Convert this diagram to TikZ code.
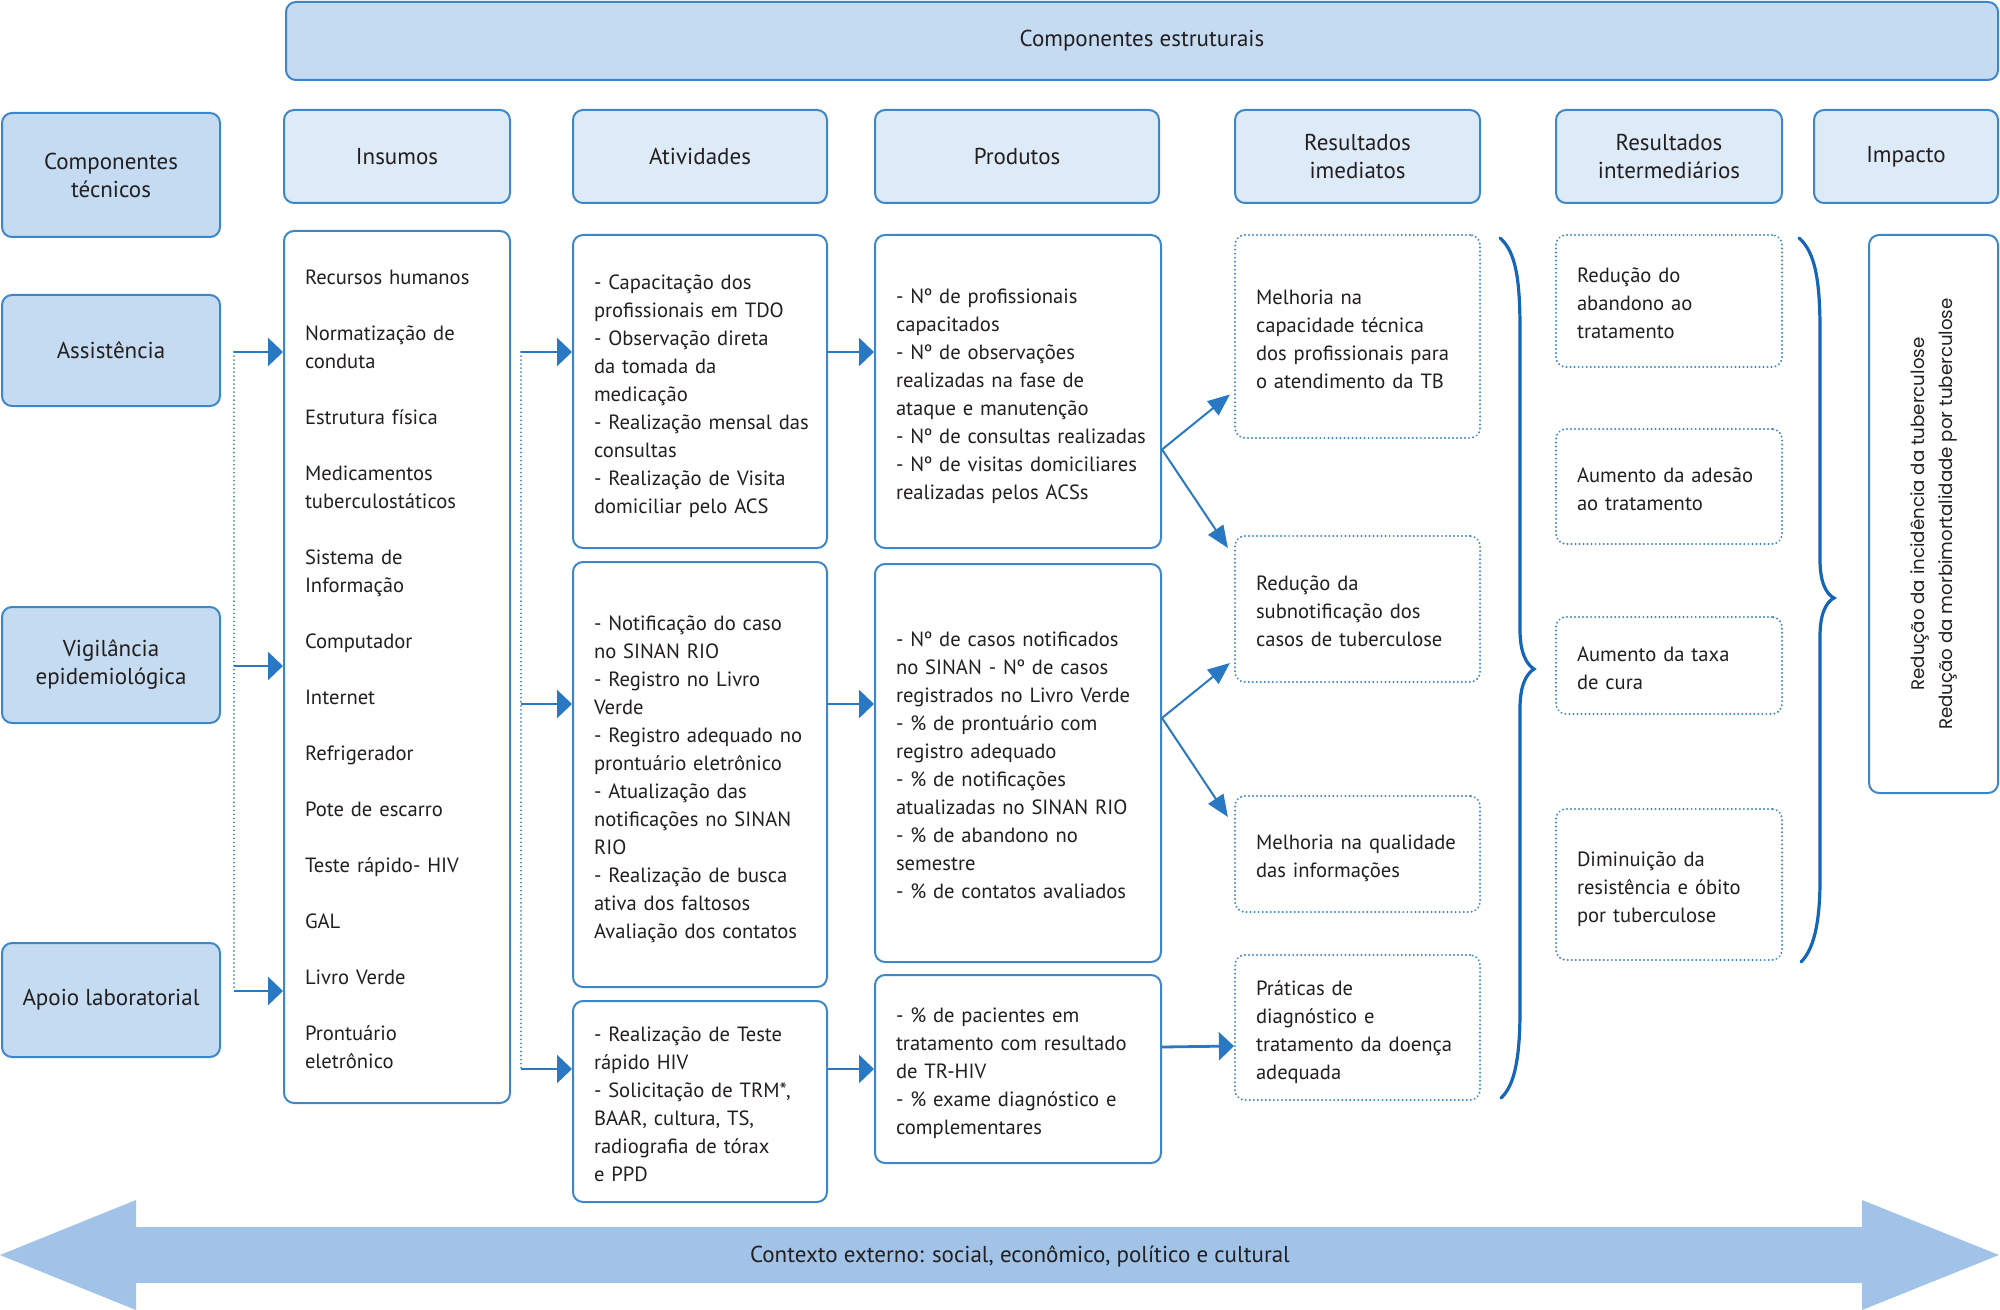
\documentclass[tikz,border=0pt]{standalone}
\usepackage{fontspec}
\setmainfont{PT Sans}
\newfontfamily\impactfont{Poppins}
\usepackage{xcolor}
\usepackage{tikz}
\usetikzlibrary{arrows.meta}

\definecolor{boxline}{HTML}{3D87C9}
\definecolor{compfill}{HTML}{C5DBF1}
\definecolor{headfill}{HTML}{DDEAF7}
\definecolor{flowblue}{HTML}{2878C3}
\definecolor{bracecol}{HTML}{1666B7}
\definecolor{contextfill}{HTML}{A1C3E7}
\definecolor{ink}{HTML}{231F20}

\newcommand{\bodyfont}{\fontsize{10.3}{14}\selectfont}
\newcommand{\headfont}{\fontsize{11.5}{14}\selectfont}
\newcommand{\itemlines}[1]{\raisebox{-2pt}[\height][\depth]{\begin{tabular}{@{}l@{}}#1\end{tabular}}}

\begin{document}
\begin{tikzpicture}[x=0.5pt, y=-0.5pt,
    comp/.style={draw=boxline, fill=compfill, line width=1pt, rounded corners=5pt,
        font=\headfont, text=ink, align=center, inner sep=0pt},
    headbox/.style={comp, fill=headfill},
    listbox/.style={draw=boxline, fill=white, line width=1pt, rounded corners=5pt,
        font=\bodyfont, text=ink, align=left, inner xsep=10.5pt, inner ysep=0pt},
    resbox/.style={listbox, dash pattern=on 0.01pt off 2pt, line cap=round, line width=1.1pt},
    flow/.style={draw=flowblue, line width=1.4pt, -{Triangle[length=7.5pt, width=14pt]}},
    fork/.style={draw=flowblue, line width=1pt, -{Triangle[length=11pt, width=9pt]}},
    trunk/.style={draw=boxline, line width=1pt, dash pattern=on 0.01pt off 2pt, line cap=round},
    curly/.style={draw=bracecol, line width=1.6pt, line cap=round}]
\useasboundingbox (0,0) rectangle (2000,1310);

% top banner and column headers
\node[comp, minimum width=856pt, minimum height=39pt] (estrut) at (1142,41) {Componentes estruturais};

\node[headbox, minimum width=113pt, minimum height=46.5pt] (insumosH) at (397,156.5) {Insumos};
\node[headbox, minimum width=127pt, minimum height=46.5pt] (ativH) at (700,156.5) {Atividades};
\node[headbox, minimum width=142pt, minimum height=46.5pt] (prodH) at (1017,156.5) {Produtos};
\node[headbox, minimum width=122.5pt, minimum height=46.5pt] (rimH) at (1357.5,156.5) {Resultados\\imediatos};
\node[headbox, minimum width=113pt, minimum height=46.5pt] (rintH) at (1669,156.5) {Resultados\\intermediários};
\node[headbox, minimum width=92pt, minimum height=46.5pt] (impH) at (1906,156.5) {Impacto};

% technical components
\node[comp, minimum width=109pt, minimum height=62pt] (tecnicos) at (111,175) {Componentes\\técnicos};
\node[comp, minimum width=109pt, minimum height=55.5pt] (assist) at (111,350.5) {Assistência};
\node[comp, minimum width=109pt, minimum height=58pt] (vigil) at (111,665) {Vigilância\\epidemiológica};
\node[comp, minimum width=109pt, minimum height=57pt] (apoio) at (111,1000) {Apoio laboratorial};

% inputs
\node[listbox, text width=92pt, minimum height=436pt] (insumos) at (397,667) {\itemlines{Recursos humanos\\ \\ Normatização de\\ conduta\\ \\ Estrutura física\\ \\ Medicamentos\\ tuberculostáticos\\ \\ Sistema de\\ Informação\\ \\ Computador\\ \\ Internet\\ \\ Refrigerador\\ \\ Pote de escarro\\ \\ Teste rápido- HIV\\ \\ GAL\\ \\ Livro Verde\\ \\ Prontuário\\ eletrônico}};

% activities
\node[listbox, text width=106pt, minimum height=156.5pt] (ativ1) at (700,391.5) {\itemlines{- Capacitação dos\\ profissionais em TDO\\ - Observação direta\\ da tomada da\\ medicação\\ - Realização mensal das\\ consultas\\ - Realização de Visita\\ domiciliar pelo ACS}};
\node[listbox, text width=106pt, minimum height=212.5pt] (ativ2) at (700,774.5) {\itemlines{- Notificação do caso\\ no SINAN RIO\\ - Registro no Livro\\ Verde\\ - Registro adequado no\\ prontuário eletrônico\\ - Atualização das\\ notificações no SINAN\\ RIO\\ - Realização de busca\\ ativa dos faltosos\\ Avaliação dos contatos}};
\node[listbox, text width=106pt, minimum height=100.5pt] (ativ3) at (700,1101.5) {\itemlines{- Realização de Teste\\ rápido HIV\\ - Solicitação de TRM*,\\ BAAR, cultura, TS,\\ radiografia de tórax\\ e PPD}};

% products
\node[listbox, text width=122pt, minimum height=156.5pt] (prod1) at (1018,391.5) {\itemlines{- Nº de profissionais\\ capacitados\\ - Nº de observações\\ realizadas na fase de\\ ataque e manutenção\\ - Nº de consultas realizadas\\ - Nº de visitas domiciliares\\ realizadas pelos ACSs}};
\node[listbox, text width=122pt, minimum height=199pt] (prod2) at (1018,763) {\itemlines{- Nº de casos notificados\\ no SINAN - Nº de casos\\ registrados no Livro Verde\\ - \% de prontuário com\\ registro adequado\\ - \% de notificações\\ atualizadas no SINAN RIO\\ - \% de abandono no\\ semestre\\ - \% de contatos avaliados}};
\node[listbox, text width=122pt, minimum height=94pt] (prod3) at (1018,1069) {\itemlines{- \% de pacientes em\\ tratamento com resultado\\ de TR-HIV\\ - \% exame diagnóstico e\\ complementares}};

% immediate results
\node[resbox, text width=101.5pt, minimum height=101.5pt] (ri1) at (1357.5,336.5) {\itemlines{Melhoria na\\ capacidade técnica\\ dos profissionais para\\ o atendimento da TB}};
\node[resbox, text width=101.5pt, minimum height=73pt] (ri2) at (1357.5,609) {\itemlines{Redução da\\ subnotificação dos\\ casos de tuberculose}};
\node[resbox, text width=101.5pt, minimum height=58pt] (ri3) at (1357.5,854) {\itemlines{Melhoria na qualidade\\ das informações}};
\node[resbox, text width=101.5pt, minimum height=72.5pt] (ri4) at (1357.5,1027.5) {\itemlines{Práticas de\\ diagnóstico e\\ tratamento da doença\\ adequada}};

% intermediate results
\node[resbox, text width=92pt, minimum height=66pt] (rint1) at (1669,301) {\itemlines{Redução do\\ abandono ao\\ tratamento}};
\node[resbox, text width=92pt, minimum height=57.5pt] (rint2) at (1669,486.5) {\itemlines{Aumento da adesão\\ ao tratamento}};
\node[resbox, text width=92pt, minimum height=48.5pt] (rint3) at (1669,665.5) {\itemlines{Aumento da taxa\\ de cura}};
\node[resbox, text width=92pt, minimum height=75.5pt] (rint4) at (1669,884.5) {\itemlines{Diminuição da\\ resistência e óbito\\ por tuberculose}};

% impact
\node[listbox, rotate=90, align=center, inner sep=0pt, minimum width=279pt, minimum height=64.5pt,
    font=\impactfont\fontsize{9.1}{14}\selectfont] (impacto) at (1933.5,514)
    {Redução da incidência da tuberculose\\Redução da morbimortalidade por tuberculose};

% connectors
\coordinate (tk1) at (234,352);
\coordinate (tk2) at (234,666);
\coordinate (tk3) at (234,991);
\draw[trunk] (tk1) -- (tk3);
\draw[flow] (tk1) -- (insumos.west |- tk1);
\draw[flow] (tk2) -- (insumos.west |- tk2);
\draw[flow] (tk3) -- (insumos.west |- tk3);

\coordinate (tm1) at (521,352);
\coordinate (tm2) at (521,704);
\coordinate (tm3) at (521,1069);
\draw[trunk] (tm1) -- (tm3);
\draw[flow] (tm1) -- (ativ1.west |- tm1);
\draw[flow] (tm2) -- (ativ2.west |- tm2);
\draw[flow] (tm3) -- (ativ3.west |- tm3);

\draw[flow] (ativ1.east |- tm1) -- (prod1.west |- tm1);
\draw[flow] (ativ2.east |- tm2) -- (prod2.west |- tm2);
\draw[flow] (ativ3.east |- tm3) -- (prod3.west |- tm3);

\draw[fork] ([yshift=-29pt]prod1.east) -- ([xshift=-2pt, yshift=-29pt]ri1.west);
\draw[fork] ([yshift=-29pt]prod1.east) -- ([xshift=-3pt, yshift=30.5pt]ri2.west);
\draw[fork] ([yshift=22.5pt]prod2.east) -- ([xshift=-2pt, yshift=-27pt]ri2.west);
\draw[fork] ([yshift=22.5pt]prod2.east) -- ([xshift=-3pt, yshift=18.5pt]ri3.west);
\draw[flow] ([yshift=11pt]prod3.east) -- ([yshift=-9.25pt]ri4.west);

% braces
\draw[curly] (1500,238) .. controls (1516,252) and (1520,280) .. (1520,330) -- (1520,630)
    .. controls (1520,652) and (1526,664) .. (1534,669) .. controls (1526,674) and (1520,686) .. (1520,708)
    -- (1520,1010) .. controls (1520,1060) and (1514,1086) .. (1501,1098);
\draw[curly] (1799,238) .. controls (1815,252) and (1820,280) .. (1820,330) -- (1820,560)
    .. controls (1820,582) and (1826,594) .. (1834,598) .. controls (1826,602) and (1820,614) .. (1820,636)
    -- (1820,880) .. controls (1820,925) and (1813,950) .. (1801,962);

% external context
\fill[contextfill] (0,1255) -- (136,1200) -- (136,1227) -- (1862,1227) -- (1862,1200) -- (1999,1255)
    -- (1862,1310) -- (1862,1283) -- (136,1283) -- (136,1310) -- cycle;
\node[font=\headfont, text=ink] (contexto) at (1020,1256) {Contexto externo: social, econômico, político e cultural};

\end{tikzpicture}
\end{document}
